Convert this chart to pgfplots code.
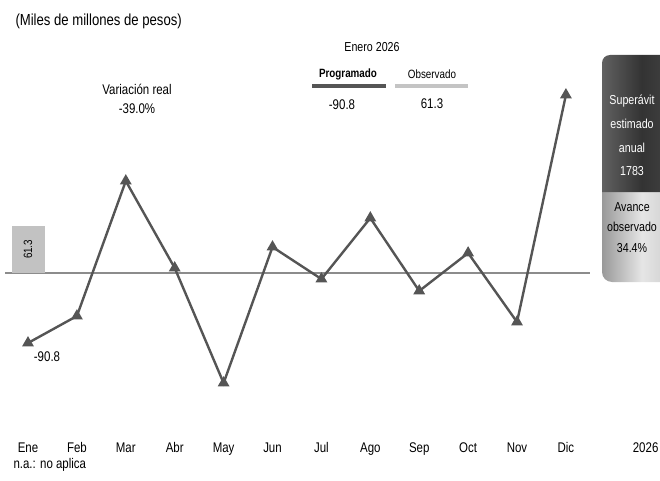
\documentclass[border=0pt]{standalone}
\usepackage{fontspec}
\setmainfont{Liberation Sans}[FakeStretch=0.82]
\usepackage{pgfplots}
\pgfplotsset{compat=1.18}
\definecolor{linegray}{HTML}{555555}
\definecolor{zerogray}{HTML}{8C8C8C}
\definecolor{barlight}{HTML}{C2C2C2}
\definecolor{progbar}{HTML}{555555}
\definecolor{obsbar}{HTML}{C4C4C4}

\begin{document}
\begin{tikzpicture}[font=\fontsize{14}{16}\selectfont]
\path[use as bounding box] (0,0) rectangle (660pt,480pt);
\clip (0,0) rectangle (660pt,480pt);
\begin{axis}[
  at={(0,0)}, anchor=south west,
  scale only axis, width=660pt, height=480pt,
  xmin=-0.5726, xmax=12.924,
  ymin=-268.5, ymax=354.1,
  axis line style={draw=none},
  major tick length=0pt,
  ytick=\empty,
  xtick={0,1,2,3,4,5,6,7,8,9,10,11,12.63},
  xticklabels={Ene,Feb,Mar,Abr,May,Jun,Jul,Ago,Sep,Oct,Nov,Dic,2026},
  xticklabel style={anchor=base, yshift=28pt, font=\fontsize{14}{16}\selectfont},
  clip=false,
]
% linea de cero
\draw[zerogray, line width=1.6pt] (axis cs:-0.47,0) -- (axis cs:11.5,0);
% observado enero
\addplot[ybar, bar width=33pt, fill=barlight, draw=none] coordinates {(0,61.3)};
\node[rotate=90, font=\fontsize{12}{14}\selectfont] at (axis cs:0,30.6) {61.3};
% programado
\addplot[linegray, line width=2.4pt, mark=triangle*, mark size=4.5pt,
  mark options={solid, fill=linegray}] coordinates {
  (0,-90.8) (1,-55.8) (2,119.3) (3,6.5) (4,-142.7) (5,33.7)
  (6,-7.8) (7,71.3) (8,-23.3) (9,25.9) (10,-63.6) (11,230.9)};
\end{axis}

% textos
\node[anchor=west, font=\fontsize{16}{18}\selectfont] at (12pt,459pt) {(Miles de millones de pesos)};
\node at (137pt,391pt) {Variación real};
\node at (137pt,371pt) {-39.0\%};
\node at (47pt,123pt) {-90.8};
\node[font=\fontsize{13}{15}\selectfont] at (372pt,433pt) {Enero 2026};
\node[font=\fontsize{12}{14}\selectfont\bfseries] at (348pt,406pt) {Programado};
\node[font=\fontsize{12}{14}\selectfont] at (432pt,406pt) {Observado};
\fill[progbar] (312pt,392pt) rectangle (386pt,396pt);
\fill[obsbar] (395pt,392pt) rectangle (468pt,396pt);
\node at (342pt,375pt) {-90.8};
\node at (432pt,376pt) {61.3};
\node[anchor=west] at (10pt,15pt) {n.a.: no aplica};

% cilindro
\shade[left color=gray!80, right color=gray!45, middle color=white!90!black,
  rounded corners=10pt] (602pt,198pt) rectangle (682pt,300pt);
\shade[left color=black!62, right color=black!72, middle color=black!80]
  (602pt,288pt) [rounded corners=8pt] -- (602pt,425pt) -- (682pt,425pt)
  [sharp corners] -- (682pt,288pt) -- cycle;
\begin{scope}[font=\fontsize{13}{15}\selectfont]
\node[white] at (632pt,379pt) {Superávit};
\node[white] at (632pt,356pt) {estimado};
\node[white] at (632pt,332pt) {anual};
\node[white] at (632pt,309pt) {1783};
\node at (632pt,273pt) {Avance};
\node at (632pt,253pt) {observado};
\node at (632pt,232pt) {34.4\%};
\end{scope}
\end{tikzpicture}
\end{document}
